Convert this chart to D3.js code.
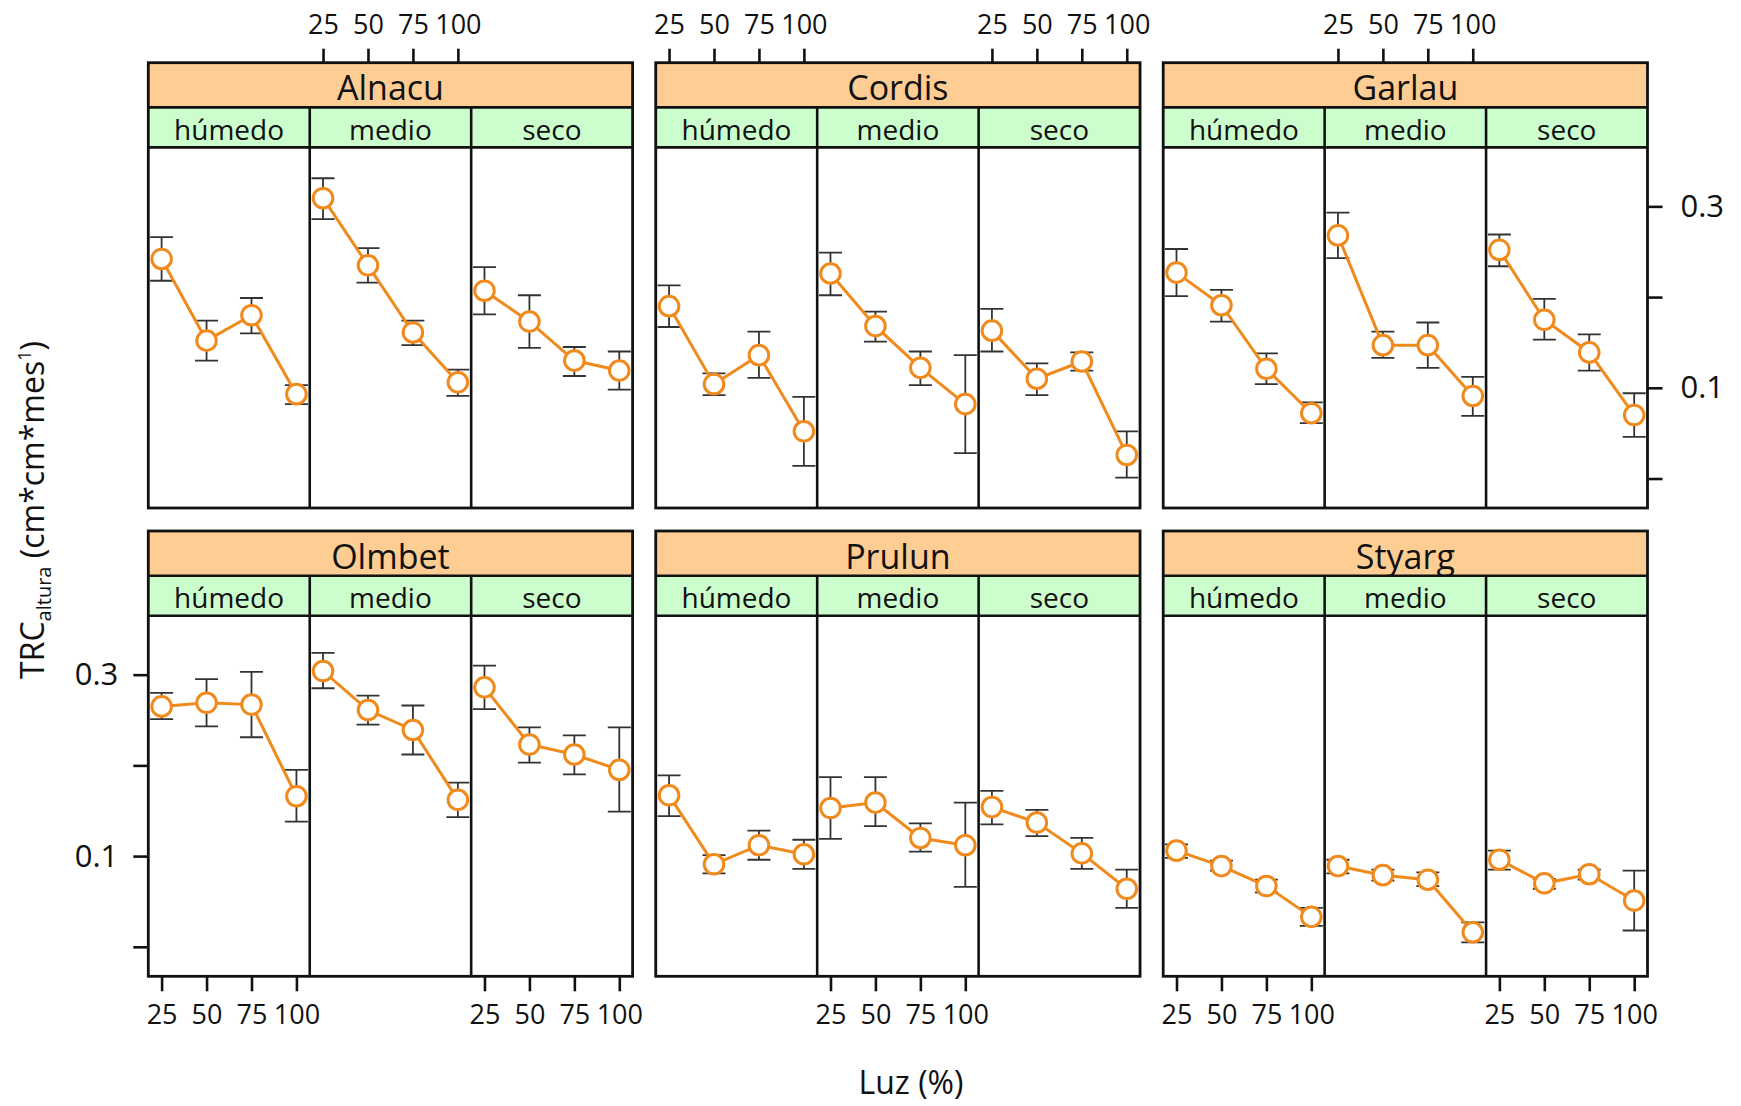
<!DOCTYPE html>
<html><head><meta charset="utf-8">
<script src="https://cdn.jsdelivr.net/npm/d3@7"></script>
<style>
html,body{margin:0;padding:0;background:#fff;}
svg text{font-family:"Open Sans","Noto Sans",sans-serif;fill:#111;}
</style></head>
<body>
<svg id="chart" width="1741" height="1106"></svg>
<script>
// ---------------- data ----------------
const species = ["Alnacu","Cordis","Garlau","Olmbet","Prulun","Styarg"];
const moisture = ["húmedo","medio","seco"];
const luz = [25,50,75,100];
const yTickValues = [0, 0.1, 0.2, 0.3];
const yTickLabels = ["", "0.1", "", "0.3"];
const xTickLabels = ["25","50","75","100"];
const yTitleMain = "TRC", yTitleSub = "altura", yTitleRest = " (cm*cm*mes", yTitleSup = "1", yTitleEnd = ")";
const xTitle = "Luz (%)";

// mean, lower, upper per moisture level (húmedo, medio, seco) x luz (25,50,75,100)
const alnacuMean = [[0.242,0.152,0.180,0.093],[0.309,0.235,0.161,0.106],[0.207,0.173,0.130,0.119]];
const alnacuLo   = [[0.218,0.130,0.160,0.082],[0.286,0.216,0.147,0.091],[0.181,0.144,0.113,0.098]];
const alnacuHi   = [[0.266,0.174,0.199,0.103],[0.331,0.254,0.174,0.120],[0.233,0.202,0.145,0.140]];

const cordisMean = [[0.190,0.104,0.136,0.052],[0.226,0.168,0.122,0.082],[0.163,0.110,0.129,0.026]];
const cordisLo   = [[0.167,0.092,0.111,0.014],[0.202,0.151,0.103,0.028],[0.140,0.092,0.119,0.001]];
const cordisHi   = [[0.213,0.116,0.162,0.090],[0.249,0.184,0.140,0.136],[0.187,0.127,0.139,0.052]];

const garlauMean = [[0.227,0.191,0.121,0.072],[0.268,0.147,0.147,0.091],[0.252,0.175,0.139,0.070]];
const garlauLo   = [[0.201,0.173,0.104,0.061],[0.243,0.133,0.122,0.069],[0.234,0.153,0.119,0.046]];
const garlauHi   = [[0.253,0.208,0.138,0.084],[0.293,0.162,0.172,0.112],[0.269,0.198,0.159,0.094]];

const olmbetMean = [[0.265,0.269,0.267,0.166],[0.304,0.261,0.239,0.162],[0.286,0.223,0.212,0.195]];
const olmbetLo   = [[0.251,0.243,0.231,0.138],[0.285,0.245,0.212,0.143],[0.262,0.203,0.190,0.149]];
const olmbetHi   = [[0.280,0.295,0.303,0.195],[0.324,0.277,0.266,0.181],[0.310,0.242,0.233,0.242]];

const prulunMean = [[0.167,0.091,0.112,0.102],[0.153,0.159,0.120,0.112],[0.154,0.137,0.103,0.064]];
const prulunLo   = [[0.144,0.081,0.096,0.086],[0.119,0.133,0.105,0.066],[0.135,0.122,0.086,0.043]];
const prulunHi   = [[0.189,0.101,0.128,0.118],[0.187,0.187,0.136,0.159],[0.172,0.151,0.120,0.085]];

const styargMean = [[0.106,0.089,0.067,0.033],[0.089,0.079,0.074,0.016],[0.096,0.070,0.080,0.051]];
const styargLo   = [[0.098,0.084,0.060,0.023],[0.081,0.073,0.067,0.005],[0.085,0.064,0.074,0.018]];
const styargHi   = [[0.113,0.095,0.074,0.043],[0.096,0.085,0.082,0.027],[0.106,0.075,0.085,0.084]];

const means = [alnacuMean, cordisMean, garlauMean, olmbetMean, prulunMean, styargMean];
const lows  = [alnacuLo, cordisLo, garlauLo, olmbetLo, prulunLo, styargLo];
const highs = [alnacuHi, cordisHi, garlauHi, olmbetHi, prulunHi, styargHi];

// ---------------- layout ----------------
const left0 = 148.3, colStep = 507.45, panelW = 484.3;
const top0 = 62.7, rowStep = 468.3;
const strip1H = 44.7, strip2H = 40, plotH = 360.6;
const subW = panelW / 3;
const orange = "#f08a1c", stripOuter = "#fdcd93", stripInner = "#ccfdcc";

const svg = d3.select("#chart");
const defs = svg.append("defs");

species.forEach((sp, k) => {
  const col = k % 3, row = Math.floor(k / 3);
  const px = left0 + col * colStep, py = top0 + row * rowStep;
  const plotTop = py + strip1H + strip2H, plotBottom = plotTop + plotH;
  const y = d3.scaleLinear().domain([-0.0325, 0.365]).range([plotBottom, plotTop]);
  const g = svg.append("g");

  // strips
  g.append("rect").attr("x", px).attr("y", py).attr("width", panelW).attr("height", strip1H)
    .attr("fill", stripOuter);
  g.append("text").attr("x", px + panelW / 2).attr("y", py + 37.5)
    .attr("text-anchor", "middle").style("font-size", "34px").text(sp);

  moisture.forEach((m, j) => {
    const sx = px + j * subW;
    const x = d3.scaleLinear().domain([17.6, 107.4]).range([sx, sx + subW]);
    g.append("rect").attr("x", sx).attr("y", py + strip1H).attr("width", subW).attr("height", strip2H)
      .attr("fill", stripInner);
    g.append("text").attr("x", sx + subW / 2).attr("y", py + strip1H + 32.5)
      .attr("text-anchor", "middle").style("font-size", "28px").text(m);

    const clipId = `clip-${k}-${j}`;
    defs.append("clipPath").attr("id", clipId).append("rect")
      .attr("x", sx).attr("y", plotTop).attr("width", subW).attr("height", plotH);
    const pg = g.append("g").attr("clip-path", `url(#${clipId})`);

    const pts = luz.map((l, i) => ({ l, v: means[k][j][i], lo: lows[k][j][i], hi: highs[k][j][i] }));

    // error bars
    const eb = pg.selectAll("g.eb").data(pts).join("g").attr("class", "eb")
      .attr("stroke", "#333").attr("stroke-width", 1.8).attr("fill", "none");
    eb.append("line").attr("x1", d => x(d.l)).attr("x2", d => x(d.l))
      .attr("y1", d => y(d.lo)).attr("y2", d => y(d.hi));
    eb.append("line").attr("x1", d => x(d.l) - 11.5).attr("x2", d => x(d.l) + 11.5)
      .attr("y1", d => y(d.lo)).attr("y2", d => y(d.lo));
    eb.append("line").attr("x1", d => x(d.l) - 11.5).attr("x2", d => x(d.l) + 11.5)
      .attr("y1", d => y(d.hi)).attr("y2", d => y(d.hi));

    // line
    pg.append("path").datum(pts)
      .attr("d", d3.line().x(d => x(d.l)).y(d => y(d.v)))
      .attr("fill", "none").attr("stroke", orange).attr("stroke-width", 3);

    // points
    pg.selectAll("circle").data(pts).join("circle")
      .attr("cx", d => x(d.l)).attr("cy", d => y(d.v)).attr("r", 9.8)
      .attr("fill", "#fff").attr("stroke", orange).attr("stroke-width", 3);

    // x axes (alternating)
    const gi = col * 3 + j;
    if (row === 0 && gi % 2 === 1) {
      const ax = g.append("g").attr("transform", `translate(0,${py})`)
        .call(d3.axisTop(x).tickValues(luz).tickFormat((d, i) => xTickLabels[i]).tickSize(14).tickPadding(15));
      styleAxis(ax, "27px");
    }
    if (row === 1 && gi % 2 === 0) {
      const ax = g.append("g").attr("transform", `translate(0,${plotBottom})`)
        .call(d3.axisBottom(x).tickValues(luz).tickFormat((d, i) => xTickLabels[i]).tickSize(15).tickPadding(14));
      styleAxis(ax, "27px");
    }
  });

  // divider lines and borders
  const bord = g.append("g").attr("stroke", "#111").attr("fill", "none");
  for (let j = 1; j < 3; j++) {
    bord.append("line").attr("x1", px + j * subW).attr("x2", px + j * subW)
      .attr("y1", py + strip1H).attr("y2", plotBottom).attr("stroke-width", 2.6);
  }
  bord.append("line").attr("x1", px).attr("x2", px + panelW).attr("y1", py + strip1H).attr("y2", py + strip1H).attr("stroke-width", 2.6);
  bord.append("line").attr("x1", px).attr("x2", px + panelW).attr("y1", plotTop).attr("y2", plotTop).attr("stroke-width", 2.6);
  bord.append("rect").attr("x", px).attr("y", py).attr("width", panelW).attr("height", plotBottom - py)
    .attr("stroke-width", 2.8);

  // y axes
  if (row === 0 && col === 2) {
    const ax = g.append("g").attr("transform", `translate(${px + panelW},0)`)
      .call(d3.axisRight(y).tickValues(yTickValues).tickFormat((d, i) => yTickLabels[i]).tickSize(15).tickPadding(18));
    styleAxis(ax, "31px");
  }
  if (row === 1 && col === 0) {
    const ax = g.append("g").attr("transform", `translate(${px},0)`)
      .call(d3.axisLeft(y).tickValues(yTickValues).tickFormat((d, i) => yTickLabels[i]).tickSize(15).tickPadding(15));
    styleAxis(ax, "31px");
  }
});

function styleAxis(ax, fs) {
  ax.select(".domain").remove();
  ax.selectAll(".tick line").attr("stroke", "#111").attr("stroke-width", 2.6);
  ax.selectAll(".tick text").style("font-size", fs).style("font-family", '"Open Sans","Noto Sans",sans-serif').attr("fill", "#111");
}

// axis titles
const yt = svg.append("text").attr("transform", "translate(44,510) rotate(-90)")
  .attr("text-anchor", "middle").style("font-size", "32px");
yt.append("tspan").text(yTitleMain);
yt.append("tspan").attr("dy", 7).style("font-size", "20px").text(yTitleSub);
yt.append("tspan").attr("dy", -7).text(yTitleRest);
yt.append("tspan").attr("dy", -13).style("font-size", "18px").text(yTitleSup);
yt.append("tspan").attr("dy", 13).text(yTitleEnd);

svg.append("text").attr("x", 911).attr("y", 1094).attr("text-anchor", "middle")
  .style("font-size", "32px").text(xTitle);
</script>
</body></html>
